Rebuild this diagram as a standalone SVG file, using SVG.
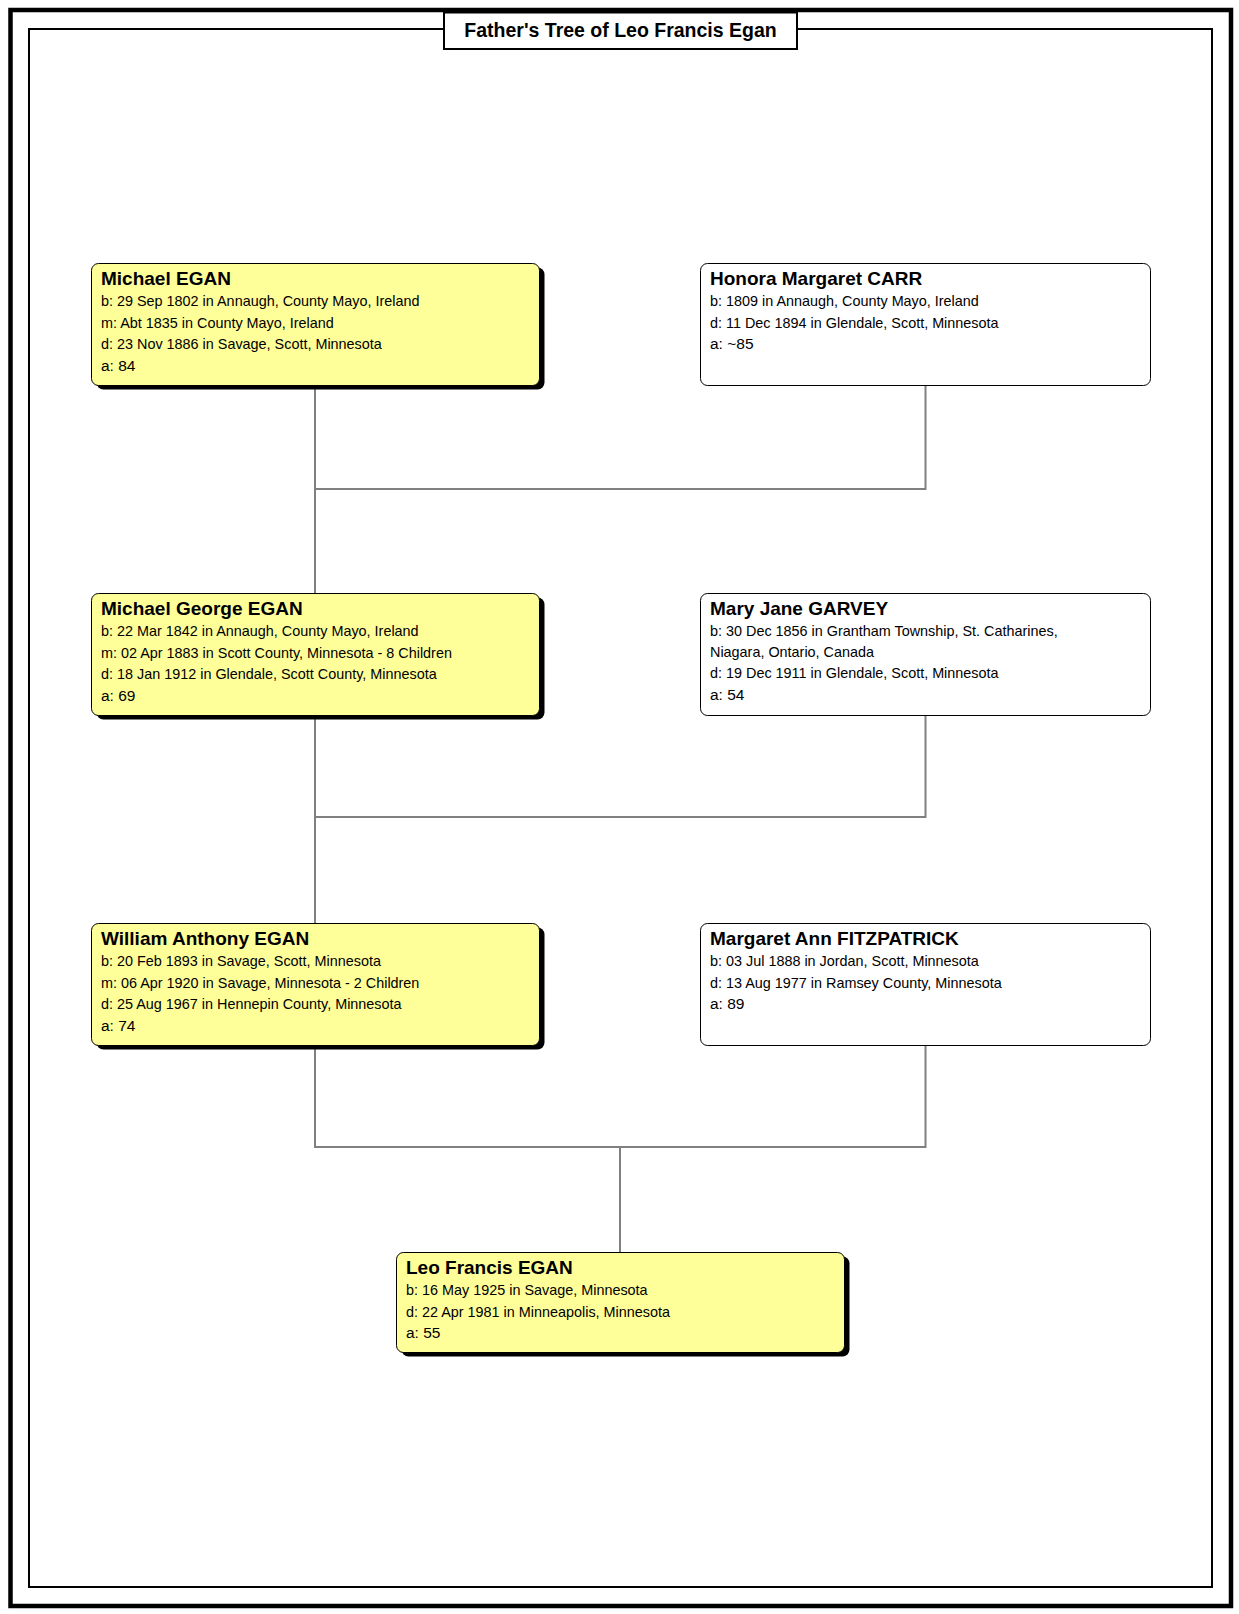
<svg xmlns="http://www.w3.org/2000/svg" width="1239" height="1614" viewBox="0 0 1239 1614">
<style>
.frame-outer{fill:none;stroke:#000;stroke-width:4.5}
.frame-inner{fill:none;stroke:#000;stroke-width:2}
.conn{fill:none;stroke:#808080;stroke-width:2}
.box-y{fill:#FFFF99;stroke:#000;stroke-width:1}
.box-w{fill:#FFFFFF;stroke:#000;stroke-width:1}
.shadow{fill:#000}
text{font-family:"Liberation Sans",Arial,sans-serif;fill:#000}
.name{font-size:19px;font-weight:bold}
.det{font-size:14.4px}
.age{font-size:15.5px}
.title{font-size:19.5px;font-weight:bold}
</style>
<rect x="0" y="0" width="1239" height="1614" fill="#fff"/>
<g id="frame">
<rect class="frame-outer" x="10.5" y="10" width="1220.5" height="1596"/>
<rect class="frame-inner" x="29" y="29" width="1183" height="1558"/>
<rect x="444" y="12.5" width="353" height="36.5" fill="#fff" stroke="#000" stroke-width="2"/>
<text class="title" x="620.5" y="37" text-anchor="middle">Father's Tree of Leo Francis Egan</text>
</g>
<g id="connectors">
<path class="conn" d="M315 385V593"/>
<path class="conn" d="M925.5 385V489H315"/>
<path class="conn" d="M315 715V923"/>
<path class="conn" d="M925.5 715V817H315"/>
<path class="conn" d="M315 1045V1147H925.5V1045"/>
<path class="conn" d="M620 1147V1252"/>
</g>
<g id="node-michael-egan">
<rect class="shadow" x="96.5" y="267.5" width="448" height="122" rx="7"/>
<rect class="box-y" x="91.5" y="263.5" width="448" height="122" rx="7"/>
<text class="name" x="101" y="285">Michael EGAN</text>
<text class="det" x="101" y="306">b: 29 Sep 1802 in Annaugh, County Mayo, Ireland</text>
<text class="det" x="101" y="327.5">m: Abt 1835 in County Mayo, Ireland</text>
<text class="det" x="101" y="349">d: 23 Nov 1886 in Savage, Scott, Minnesota</text>
<text class="age" x="101" y="370.5">a: 84</text>
</g>
<g id="node-honora-carr">
<rect class="box-w" x="700.5" y="263.5" width="450" height="122" rx="7"/>
<text class="name" x="710" y="285">Honora Margaret CARR</text>
<text class="det" x="710" y="306">b: 1809 in Annaugh, County Mayo, Ireland</text>
<text class="det" x="710" y="327.5">d: 11 Dec 1894 in Glendale, Scott, Minnesota</text>
<text class="age" x="710" y="349">a: ~85</text>
</g>
<g id="node-michael-george-egan">
<rect class="shadow" x="96.5" y="597.5" width="448" height="122" rx="7"/>
<rect class="box-y" x="91.5" y="593.5" width="448" height="122" rx="7"/>
<text class="name" x="101" y="615">Michael George EGAN</text>
<text class="det" x="101" y="636">b: 22 Mar 1842 in Annaugh, County Mayo, Ireland</text>
<text class="det" x="101" y="657.5">m: 02 Apr 1883 in Scott County, Minnesota - 8 Children</text>
<text class="det" x="101" y="679">d: 18 Jan 1912 in Glendale, Scott County, Minnesota</text>
<text class="age" x="101" y="700.5">a: 69</text>
</g>
<g id="node-mary-jane-garvey">
<rect class="box-w" x="700.5" y="593.5" width="450" height="122" rx="7"/>
<text class="name" x="710" y="615">Mary Jane GARVEY</text>
<text class="det" x="710" y="636">b: 30 Dec 1856 in Grantham Township, St. Catharines,</text>
<text class="det" x="710" y="656.5">Niagara, Ontario, Canada</text>
<text class="det" x="710" y="678">d: 19 Dec 1911 in Glendale, Scott, Minnesota</text>
<text class="age" x="710" y="699.5">a: 54</text>
</g>
<g id="node-william-anthony-egan">
<rect class="shadow" x="96.5" y="927.5" width="448" height="122" rx="7"/>
<rect class="box-y" x="91.5" y="923.5" width="448" height="122" rx="7"/>
<text class="name" x="101" y="945">William Anthony EGAN</text>
<text class="det" x="101" y="966">b: 20 Feb 1893 in Savage, Scott, Minnesota</text>
<text class="det" x="101" y="987.5">m: 06 Apr 1920 in Savage, Minnesota - 2 Children</text>
<text class="det" x="101" y="1009">d: 25 Aug 1967 in Hennepin County, Minnesota</text>
<text class="age" x="101" y="1030.5">a: 74</text>
</g>
<g id="node-margaret-ann-fitzpatrick">
<rect class="box-w" x="700.5" y="923.5" width="450" height="122" rx="7"/>
<text class="name" x="710" y="945">Margaret Ann FITZPATRICK</text>
<text class="det" x="710" y="966">b: 03 Jul 1888 in Jordan, Scott, Minnesota</text>
<text class="det" x="710" y="987.5">d: 13 Aug 1977 in Ramsey County, Minnesota</text>
<text class="age" x="710" y="1009">a: 89</text>
</g>
<g id="node-leo-francis-egan">
<rect class="shadow" x="401.5" y="1256.5" width="448" height="100" rx="7"/>
<rect class="box-y" x="396.5" y="1252.5" width="448" height="100" rx="7"/>
<text class="name" x="406" y="1274">Leo Francis EGAN</text>
<text class="det" x="406" y="1295">b: 16 May 1925 in Savage, Minnesota</text>
<text class="det" x="406" y="1316.5">d: 22 Apr 1981 in Minneapolis, Minnesota</text>
<text class="age" x="406" y="1338">a: 55</text>
</g>
</svg>
